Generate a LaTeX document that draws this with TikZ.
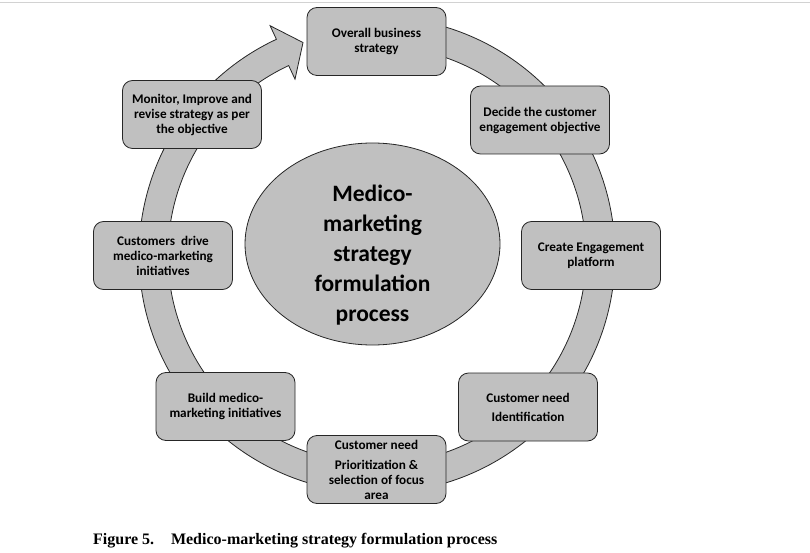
\documentclass[tikz,border=0pt]{standalone}
\usepackage{fontspec}
\setmainfont{Carlito}
\newfontfamily\capfont{Liberation Serif}
\usepackage{tikz}
\usetikzlibrary{shapes.geometric}
\definecolor{mmgray}{HTML}{C0C0C0}
\definecolor{mmline}{HTML}{262626}

\begin{document}
\begin{tikzpicture}[x=1pt,y=1pt,
  bx/.style={rectangle,rounded corners=10pt,draw=mmline,fill=mmgray,line width=0.8pt,align=center,
    minimum width=139pt,minimum height=68pt,inner sep=2pt,font=\bfseries\fontsize{13.2}{15}\selectfont},
  hub/.style={ellipse,draw=mmline,fill=mmgray,line width=0.8pt,inner sep=0pt,
    minimum width=255pt,minimum height=202pt},
  ring/.style={fill=mmgray,draw=mmline,line width=0.8pt}]
  \useasboundingbox (0,0) rectangle (810,552);
  \draw[gray!35] (0,550) -- (810,550);
  % circular arrow
  \coordinate (c) at (377,297);
  \begin{scope}[shift={(c)}]
    \filldraw[ring] (95:238pt) arc[start angle=95,end angle=-245,radius=238pt]
      -- (-245:253pt) -- (-250.8:225pt) -- (-245:194pt) -- (-245:209pt)
      arc[start angle=-245,end angle=95,radius=209pt] -- cycle;
  \end{scope}
  \node[hub] (mm) at (372.5,308) {};
  \node[align=center,font=\bfseries\fontsize{23.5}{30}\selectfont] (mmt) at (372.5,297)
    {Medico-\\marketing\\strategy\\formulation\\process};
  \node[bx] (ovr) at (376.5,510.5) {Overall business\\strategy};
  \node[bx] (dec) at (540,432) {Decide the customer\\engagement objective};
  \node[bx] (cre) at (591,296.5) {Create Engagement\\platform};
  \node[bx] (idn) at (528,145) {Customer need\\[4pt]Identification};
  \node[bx] (pri) at (376.5,82.5) {Customer need\\[5pt]Prioritization \&\\selection of focus\\area};
  \node[bx] (bld) at (225.5,145.5) {Build medico-\\marketing initiatives};
  \node[bx] (drv) at (163,296.5) {Customers\ \ drive\\medico-marketing\\initiatives};
  \node[bx] (mon) at (192,437.5) {Monitor, Improve and\\revise strategy as per\\the objective};
  \node[anchor=west,inner sep=0pt,font=\capfont\bfseries\fontsize{16}{19}\selectfont] (cap) at (93,11)
    {Figure 5.\hspace{1.05em}Medico-marketing strategy formulation process};
\end{tikzpicture}
\end{document}
